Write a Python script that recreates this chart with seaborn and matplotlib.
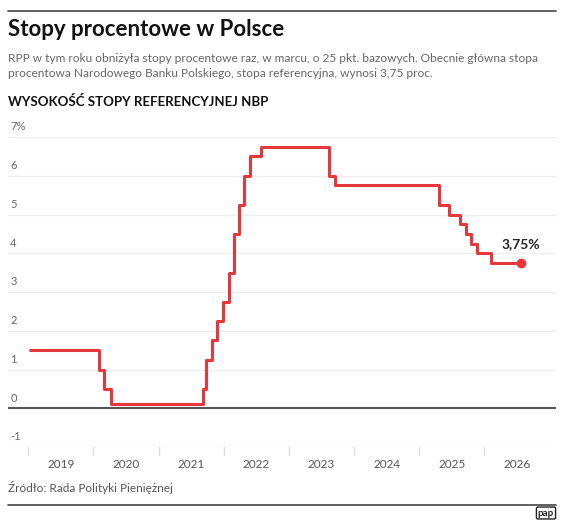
import matplotlib
matplotlib.use("Agg")
import matplotlib.pyplot as plt
import matplotlib.transforms as mtransforms
import seaborn as sns
import pandas as pd

dates = [2019.03, 2020.09, 2020.17, 2020.27, 2021.68, 2021.73, 2021.82, 2021.90, 2021.99,
         2022.08, 2022.16, 2022.24, 2022.31, 2022.40, 2022.57, 2023.62, 2023.71, 2025.30,
         2025.46, 2025.63, 2025.72, 2025.79, 2025.89, 2026.10, 2026.56]
rates = [1.5, 1.0, 0.5, 0.1, 0.5, 1.25, 1.75, 2.25, 2.75, 3.5, 4.5, 5.25, 6.0, 6.5, 6.75,
         6.0, 5.75, 5.25, 5.0, 4.75, 4.5, 4.25, 4.0, 3.75, 3.75]
years = [2019, 2020, 2021, 2022, 2023, 2024, 2025, 2026]
yticks = [-1, 0, 1, 2, 3, 4, 5, 6, 7]
ylabels = ["-1", "0", "1", "2", "3", "4", "5", "6", "7%"]

sns.set_theme(style="white")
plt.rcParams['font.family'] = ['Lato', 'DejaVu Sans']

fig = plt.figure(figsize=(5.64, 5.2), dpi=100)
ax = fig.add_axes([8/564, 1-447/520, 548/564, 310/520])
df = pd.DataFrame({"date": dates, "rate": rates})
red = "#e8373c"
sns.lineplot(data=df, x="date", y="rate", drawstyle="steps-post", color=red, lw=2.2, ax=ax)
ax.plot([dates[-1]], [rates[-1]], "o", color=red, ms=6, zorder=5)
ax.annotate("3,75%", (dates[-1], rates[-1]), xytext=(0, 9), textcoords="offset points",
            ha="center", va="bottom", fontsize=10, fontweight="bold", color="#222")

ax.set_xlim(2018.69, 2027.10)
ax.set_ylim(-1, 7)
for s in ax.spines.values():
    s.set_visible(False)
for v in yticks:
    if v == 0:
        ax.axhline(0, color="#555", lw=1.5, zorder=3)
    else:
        ax.axhline(v, color="#eeeeee", lw=1, zorder=0)
tr = mtransforms.blended_transform_factory(ax.transAxes, ax.transData)
for v, l in zip(yticks, ylabels):
    ax.text(0.004, v + 0.12, l, transform=tr, fontsize=8, color="#666", va="bottom", ha="left")
ax.set_yticks([])
ax.set_xticks([y + 0.5 for y in years])
ax.set_xticklabels([str(y) for y in years], fontsize=8.5, color="#555")
ax.tick_params(axis="x", length=0, pad=9)
ax.set_xlabel("")
ax.set_ylabel("")
for y in years:
    ax.plot([y, y], [-1, -1.2], color="#dddddd", lw=1, clip_on=False)

fig.add_artist(plt.Line2D([8/564, 556/564], [1-11/520, 1-11/520], color="#444", lw=1.2))
fig.text(8/564, 1-29/520, "Stopy procentowe w Polsce", fontsize=16, fontweight="bold",
         color="#111", va="center")
fig.text(8/564, 1-58/520, "RPP w tym roku obniżyła stopy procentowe raz, w marcu, o 25 pkt. bazowych. Obecnie główna stopa",
         fontsize=8.6, color="#666", va="center")
fig.text(8/564, 1-74/520, "procentowa Narodowego Banku Polskiego, stopa referencyjna, wynosi 3,75 proc.",
         fontsize=8.6, color="#666", va="center")
fig.text(8/564, 1-101/520, "WYSOKOŚĆ STOPY REFERENCYJNEJ NBP", fontsize=9.5, fontweight="bold",
         color="#111", va="center")
fig.text(8/564, 1-487/520, "Źródło: Rada Polityki Pieniężnej", fontsize=8.5, color="#555", va="center")
fig.add_artist(plt.Line2D([8/564, 556/564], [1-505/520, 1-505/520], color="#444", lw=1.2))
fig.text(546/564, 1-513/520, "pap", fontsize=7, fontweight="bold", color="#222", va="center", ha="center",
         bbox=dict(boxstyle="round,pad=0.15", fc="white", ec="#222", lw=1))
fig.savefig("out.png", dpi=100)
